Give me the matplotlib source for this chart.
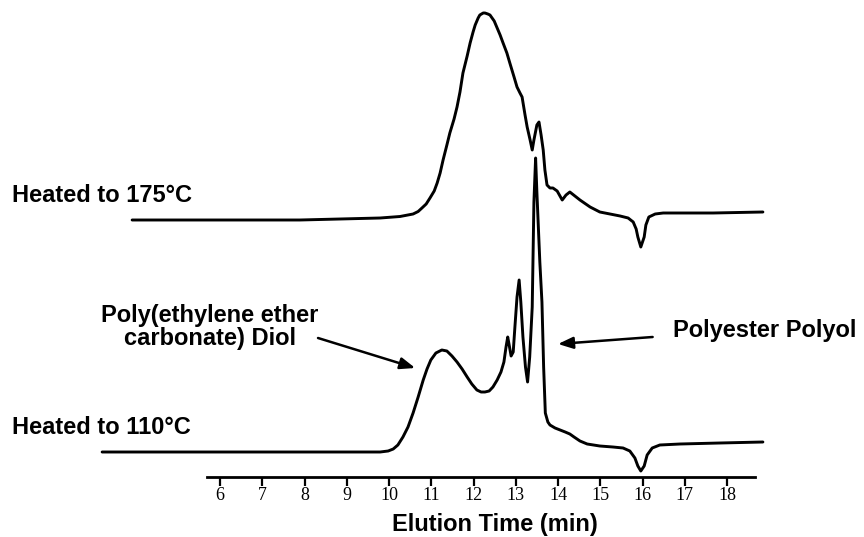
import matplotlib
matplotlib.use("Agg")
import matplotlib.pyplot as plt

# Elution time (min) and detector response, sample heated to 175 C
t_175 = [3.92, 7.89, 9.79, 10.26, 10.57, 10.69, 10.78, 10.88, 10.97, 11.07, 11.14, 11.21,
         11.28, 11.37, 11.44, 11.54, 11.61, 11.68, 11.75, 11.85, 11.92, 11.99, 12.04, 12.11,
         12.15, 12.23, 12.27, 12.34, 12.39, 12.49, 12.56, 12.63, 12.70, 12.79, 12.86, 12.96,
         13.03, 13.10, 13.15, 13.22, 13.27, 13.34, 13.39, 13.43, 13.50, 13.55, 13.60, 13.65,
         13.69, 13.74, 13.81, 13.88, 13.98, 14.10, 14.19, 14.28, 14.40, 14.52, 14.76, 14.99,
         15.23, 15.47, 15.66, 15.78, 15.85, 15.89, 15.96, 16.04, 16.08, 16.15, 16.30, 16.49,
         17.67, 18.85]
r_175 = [-5, -5, -3, -1.5, 1, 3.5, 7, 11, 17, 24, 32, 42,
         55, 70, 82, 96, 108, 123, 142, 159, 172, 183, 190, 197,
         200, 202, 202, 201, 200, 194, 187, 180, 172, 162, 152, 138,
         128, 122, 118, 100, 88, 75, 65, 75, 90, 93, 80, 65,
         45, 30, 27, 27, 24, 15, 20, 23, 19, 15, 8, 3,
         1, -1, -3, -7, -14, -22, -32, -22, -10, -2, 1, 2,
         2, 3]

# same, sample heated to 110 C
t_110 = [3.21, 5.53, 7.89, 9.79, 9.98, 10.10, 10.21, 10.33, 10.45, 10.57, 10.69, 10.81,
         10.90, 10.99, 11.11, 11.25, 11.37, 11.49, 11.61, 11.73, 11.85, 11.96, 12.08, 12.18,
         12.27, 12.37, 12.46, 12.56, 12.65, 12.72, 12.77, 12.81, 12.84, 12.89, 12.94, 12.98,
         13.03, 13.08, 13.12, 13.17, 13.23, 13.28, 13.33, 13.36, 13.39, 13.43, 13.47, 13.50,
         13.57, 13.62, 13.66, 13.70, 13.76, 13.81, 13.93, 14.05, 14.17, 14.28, 14.38, 14.52,
         14.69, 14.99, 15.30, 15.54, 15.70, 15.82, 15.89, 15.96, 16.04, 16.11, 16.23, 16.41,
         16.89, 17.83, 18.85]
r_110 = [0, 0, 0, 0, 1, 3, 7, 15, 25, 39, 55, 72,
         83, 92, 99, 102, 101, 96, 90, 83, 75, 68, 62, 60,
         60, 61, 65, 72, 80, 90, 105, 115, 108, 96, 100, 125,
         155, 172, 150, 115, 85, 70, 95, 120, 145, 250, 294, 260,
         190, 150, 85, 39, 30, 27, 24, 22, 20, 18, 15, 11,
         8, 6, 5, 4, 1, -6, -14, -19, -14, -3, 4, 7,
         8, 9, 10]

ticks = list(range(6, 19))
labels_left = ["Heated to 175°C", "Heated to 110°C"]

W, H = 864, 537
fig = plt.figure(figsize=(W / 100, H / 100), dpi=100)
ax = fig.add_axes([0, 0, 1, 1])

# 42.25 px per minute, 6 min sits at x=220
x0 = 6 + (0 - 220) / 42.25
x1 = 6 + (W - 220) / 42.25
ax.set_xlim(x0, x1)
ax.set_ylim(0, H)

base_175 = H - 215
base_110 = H - 452
ax.plot(t_175, [base_175 + r for r in r_175], color="black", lw=2.1,
        solid_joinstyle="round", solid_capstyle="round")
ax.plot(t_110, [base_110 + r for r in r_110], color="black", lw=2.1,
        solid_joinstyle="round", solid_capstyle="round")

# time axis drawn as a single bottom line
for s in ["top", "left", "right"]:
    ax.spines[s].set_visible(False)
ax.spines["bottom"].set_position(("data", H - 477))
ax.spines["bottom"].set_bounds(6 + (207 - 220) / 42.25, 6 + (755 - 220) / 42.25)
ax.spines["bottom"].set_linewidth(2.0)
ax.set_yticks([])
ax.set_xticks(ticks)
ax.set_xticklabels([str(t) for t in ticks], fontfamily="Liberation Serif", fontsize=13)
ax.tick_params(axis="x", direction="out", length=6.5, width=1.6, pad=1.0)

bold = dict(fontfamily="Liberation Sans", fontweight="bold", fontsize=17)
fig.text(495 / W, 1 - 525 / H, "Elution Time (min)", ha="center", va="center", **bold)
fig.text(12 / W, 1 - 195 / H, labels_left[0], ha="left", va="center", **bold)
fig.text(12 / W, 1 - 428 / H, labels_left[1], ha="left", va="center", **bold)
fig.text(210 / W, 1 - 327 / H, "Poly(ethylene ether\ncarbonate) Diol", ha="center",
         va="center", multialignment="center", linespacing=0.95, **bold)
fig.text(673 / W, 1 - 330 / H, "Polyester Polyol", ha="left", va="center", **bold)

arrow = dict(arrowstyle="-|>,head_length=0.9,head_width=0.35", color="black", lw=1.8,
             shrinkA=0, shrinkB=0)
ax.annotate("", xy=(10.62, H - 368), xytext=(8.32, H - 338), arrowprops=arrow)
ax.annotate("", xy=(14.0, H - 344), xytext=(16.24, H - 337), arrowprops=arrow)

fig.savefig("out.png", dpi=100)
